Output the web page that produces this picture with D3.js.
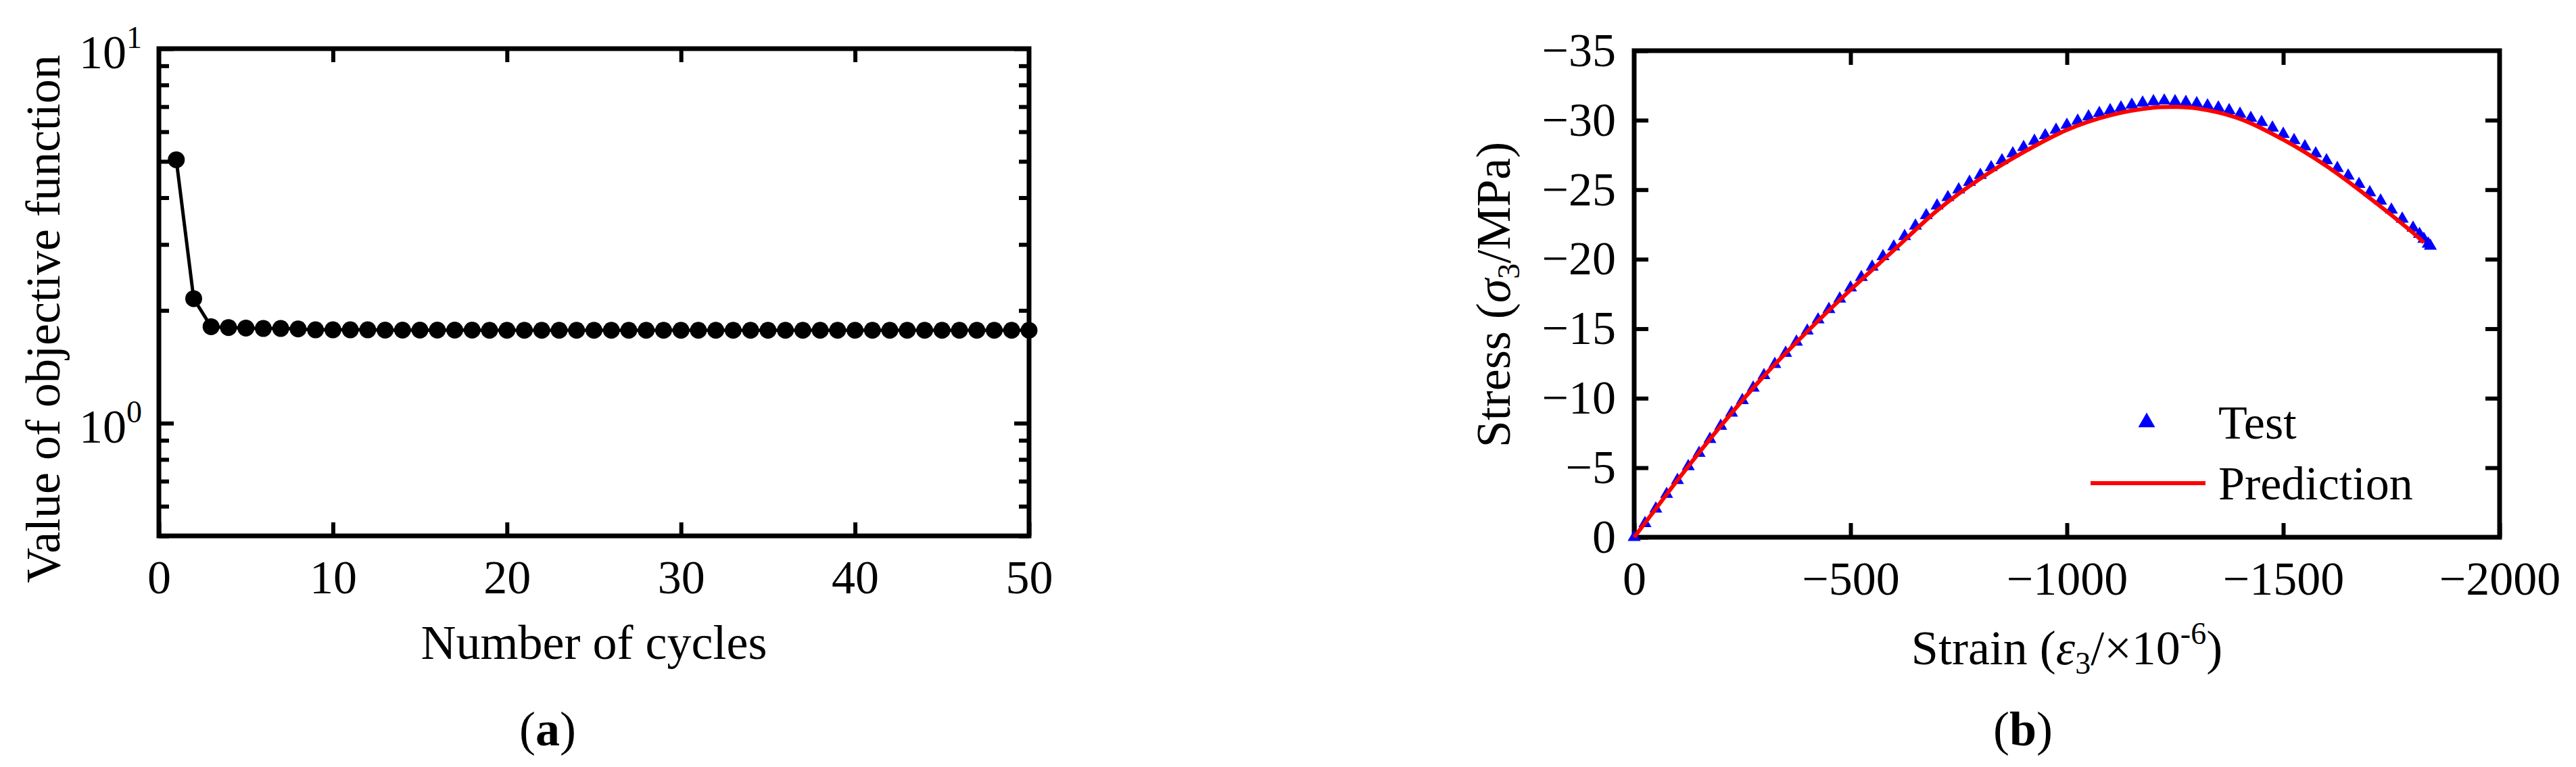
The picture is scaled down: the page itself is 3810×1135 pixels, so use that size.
<!DOCTYPE html>
<html>
<head>
<meta charset="utf-8">
<script src="https://cdn.jsdelivr.net/npm/d3@7"></script>
<style>
  body { margin: 0; background: #fff; }
  svg { display: block; }
</style>
</head>
<body>
<svg id="fig" width="3810" height="1135"></svg>
<script>
// panel (a): objective value per optimisation cycle
const cycles = [1, 2, 3, 4, 5, 6, 7, 8, 9, 10, 11, 12, 13, 14, 15, 16, 17, 18, 19, 20,
    21, 22, 23, 24, 25, 26, 27, 28, 29, 30, 31, 32, 33, 34, 35, 36, 37, 38, 39, 40,
    41, 42, 43, 44, 45, 46, 47, 48, 49, 50];
const objective = [5.05, 2.15, 1.81, 1.80, 1.795, 1.79, 1.79, 1.785, 1.775, 1.775,
    1.775, 1.775, 1.772, 1.772, 1.772, 1.772, 1.772, 1.772, 1.77, 1.77,
    1.77, 1.77, 1.77, 1.77, 1.77, 1.77, 1.77, 1.77, 1.77, 1.77,
    1.77, 1.77, 1.77, 1.77, 1.77, 1.77, 1.77, 1.77, 1.77, 1.77,
    1.77, 1.77, 1.77, 1.77, 1.77, 1.77, 1.77, 1.77, 1.77, 1.77];
const cycleTicks = [0, 10, 20, 30, 40, 50];
const objMajor = [1, 10];

// panel (b): stress-strain, test points and prediction
const testStrain = [0, -25, -50, -75, -100, -125, -150, -175, -200, -225, -250, -275, -300, -325,
    -350, -375, -400, -425, -450, -475, -500, -525, -550, -575, -600, -625, -650, -675, -700,
    -725, -750, -775, -800, -825, -850, -875, -900, -925, -950, -975, -1000, -1025, -1050,
    -1075, -1100, -1125, -1150, -1175, -1200, -1225, -1250, -1275, -1300, -1325, -1350,
    -1375, -1400, -1425, -1450, -1475, -1500, -1525, -1550, -1575, -1600, -1625, -1650,
    -1675, -1700, -1725, -1750, -1775, -1800, -1815, -1825, -1835, -1840];
const testStress = [0, -1.0, -2.05, -3.1, -4.1, -5.1, -6.05, -7.05, -8.0, -8.95, -9.85, -10.75, -11.65, -12.45,
    -13.25, -14.05, -14.85, -15.65, -16.4, -17.15, -17.95, -18.7, -19.45, -20.2, -20.9, -21.65, -22.4, -23.15, -23.85,
    -24.45, -25.0, -25.55, -26.05, -26.6, -27.1, -27.6, -28.05, -28.5, -28.9, -29.3, -29.65, -29.95, -30.25,
    -30.5, -30.7, -30.9, -31.1, -31.25, -31.35, -31.4, -31.35, -31.3, -31.2, -31.05, -30.9,
    -30.7, -30.45, -30.15, -29.85, -29.45, -29.0, -28.55, -28.1, -27.6, -27.1, -26.55, -26.0,
    -25.4, -24.8, -24.2, -23.55, -22.9, -22.25, -21.8, -21.45, -21.1, -20.95];
const predStrain = [0, -50, -100, -200, -300, -400, -500, -600, -700, -800, -900, -1000, -1100,
    -1200, -1250, -1300, -1400, -1500, -1600, -1700, -1800, -1825];
const predStress = [0, -2.05, -4.1, -8.0, -11.6, -14.8, -17.8, -20.65, -23.5, -25.8, -27.7, -29.3, -30.35,
    -30.9, -30.95, -30.85, -30.1, -28.6, -26.7, -24.4, -21.9, -21.2];
const strainTicks = [0, -500, -1000, -1500, -2000];
const stressTicks = [0, -5, -10, -15, -20, -25, -30, -35];

const FONT = 'Liberation Serif, Times New Roman, serif';
const TICK_FS = 70;
const TITLE_FS = 72;

const svg = d3.select('#fig');

function styleAxis(g) {
    g.attr('font-family', FONT).attr('font-size', TICK_FS);
    g.select('.domain').remove();
    g.selectAll('line').attr('stroke', '#000').attr('stroke-width', 6);
    g.selectAll('text').attr('fill', '#000');
}

// ---------- panel (a) ----------
const a = { left: 235, right: 1522, top: 72, bottom: 793 };
const xA = d3.scaleLinear().domain([0, 50]).range([a.left, a.right]);
const yA = d3.scaleLog().domain([0.5, 10]).range([a.bottom, a.top]);
const minorA = yA.ticks().filter(v => !objMajor.includes(v));

svg.append('g').attr('transform', `translate(0,${a.bottom})`)
    .call(d3.axisBottom(xA).tickValues(cycleTicks).tickSizeInner(-20).tickSizeOuter(0).tickPadding(35))
    .call(styleAxis);
svg.append('g').attr('transform', `translate(0,${a.top})`)
    .call(d3.axisTop(xA).tickValues(cycleTicks.slice(1, -1)).tickSizeInner(-20).tickSizeOuter(0).tickFormat(''))
    .call(styleAxis);
svg.append('g').attr('transform', `translate(${a.left},0)`)
    .call(d3.axisLeft(yA).tickValues(minorA).tickSizeInner(-15).tickSizeOuter(0).tickFormat(''))
    .call(styleAxis);
svg.append('g').attr('transform', `translate(${a.right},0)`)
    .call(d3.axisRight(yA).tickValues(minorA).tickSizeInner(-15).tickSizeOuter(0).tickFormat(''))
    .call(styleAxis);
svg.append('g').attr('transform', `translate(${a.right},0)`)
    .call(d3.axisRight(yA).tickValues(objMajor).tickSizeInner(-22).tickSizeOuter(0).tickFormat(''))
    .call(styleAxis);
const leftMajor = svg.append('g').attr('transform', `translate(${a.left},0)`)
    .call(d3.axisLeft(yA).tickValues(objMajor).tickSizeInner(-22).tickSizeOuter(0).tickPadding(25))
    .call(styleAxis);
leftMajor.selectAll('.tick text').each(function (d) {
    const t = d3.select(this).text(null).attr('dy', '0.4em');
    t.append('tspan').text('10');
    t.append('tspan').attr('font-size', 46).attr('dy', -30).text(Math.round(Math.log10(d)));
});

svg.append('rect')
    .attr('x', a.left).attr('y', a.top)
    .attr('width', a.right - a.left).attr('height', a.bottom - a.top)
    .attr('fill', 'none').attr('stroke', '#000').attr('stroke-width', 7);

const seriesA = cycles.map((c, i) => [c, objective[i]]);
svg.append('path').datum(seriesA)
    .attr('fill', 'none').attr('stroke', '#000').attr('stroke-width', 5)
    .attr('d', d3.line().x(d => xA(d[0])).y(d => yA(d[1])));
svg.append('g').selectAll('circle').data(seriesA).enter().append('circle')
    .attr('cx', d => xA(d[0])).attr('cy', d => yA(d[1])).attr('r', 12.5)
    .attr('fill', '#000');

svg.append('text')
    .attr('transform', 'translate(88,472) rotate(-90)')
    .attr('text-anchor', 'middle').attr('font-family', FONT).attr('font-size', TITLE_FS)
    .text('Value of objective function');
svg.append('text')
    .attr('x', (a.left + a.right) / 2).attr('y', 975)
    .attr('text-anchor', 'middle').attr('font-family', FONT).attr('font-size', TITLE_FS)
    .text('Number of cycles');

const labA = svg.append('text').attr('x', 810).attr('y', 1103)
    .attr('text-anchor', 'middle').attr('font-family', FONT).attr('font-size', 72);
labA.append('tspan').text('(');
labA.append('tspan').attr('font-weight', 'bold').text('a');
labA.append('tspan').text(')');

// ---------- panel (b) ----------
const b = { left: 2417, right: 3697, top: 75, bottom: 795 };
const xB = d3.scaleLinear().domain([0, -2000]).range([b.left, b.right]);
const yB = d3.scaleLinear().domain([0, -35]).range([b.bottom, b.top]);
const fmt = d3.format('d');

svg.append('g').attr('transform', `translate(0,${b.bottom})`)
    .call(d3.axisBottom(xB).tickValues(strainTicks).tickFormat(fmt).tickSizeInner(-21).tickSizeOuter(0).tickPadding(35))
    .call(styleAxis);
svg.append('g').attr('transform', `translate(0,${b.top})`)
    .call(d3.axisTop(xB).tickValues(strainTicks.slice(1, -1)).tickFormat('').tickSizeInner(-21).tickSizeOuter(0))
    .call(styleAxis);
svg.append('g').attr('transform', `translate(${b.left},0)`)
    .call(d3.axisLeft(yB).tickValues(stressTicks).tickFormat(fmt).tickSizeInner(-21).tickSizeOuter(0).tickPadding(27))
    .call(styleAxis);
svg.append('g').attr('transform', `translate(${b.right},0)`)
    .call(d3.axisRight(yB).tickValues(stressTicks.slice(1, -1)).tickFormat('').tickSizeInner(-21).tickSizeOuter(0))
    .call(styleAxis);

svg.append('rect')
    .attr('x', b.left).attr('y', b.top)
    .attr('width', b.right - b.left).attr('height', b.bottom - b.top)
    .attr('fill', 'none').attr('stroke', '#000').attr('stroke-width', 7);

const testPts = testStrain.map((s, i) => [s, testStress[i]]);
const predPts = predStrain.map((s, i) => [s, predStress[i]]);
const tri = d3.symbol(d3.symbolTriangle, 160);
svg.append('g').selectAll('path').data(testPts).enter().append('path')
    .attr('transform', d => `translate(${xB(d[0])},${yB(d[1])})`)
    .attr('d', tri).attr('fill', '#0000ff');
svg.append('path').datum(predPts)
    .attr('fill', 'none').attr('stroke', '#ff0000').attr('stroke-width', 6)
    .attr('d', d3.line().curve(d3.curveCatmullRom).x(d => xB(d[0])).y(d => yB(d[1])));

// legend
const leg = svg.append('g').attr('font-family', FONT).attr('font-size', 70);
leg.append('path').attr('transform', 'translate(3175,625)')
    .attr('d', d3.symbol(d3.symbolTriangle, 271)).attr('fill', '#0000ff');
leg.append('text').attr('x', 3281).attr('y', 649).text('Test');
leg.append('line').attr('x1', 3092).attr('x2', 3262).attr('y1', 715).attr('y2', 715)
    .attr('stroke', '#ff0000').attr('stroke-width', 6);
leg.append('text').attr('x', 3281).attr('y', 739).text('Prediction');

const yTitleB = svg.append('text')
    .attr('transform', 'translate(2233,436) rotate(-90)')
    .attr('text-anchor', 'middle').attr('font-family', FONT).attr('font-size', TITLE_FS);
yTitleB.append('tspan').text('Stress (');
yTitleB.append('tspan').attr('font-style', 'italic').text('σ');
yTitleB.append('tspan').attr('font-size', 46).attr('dy', 14).text('3');
yTitleB.append('tspan').attr('dy', -14).text('/MPa)');

const xTitleB = svg.append('text')
    .attr('x', (b.left + b.right) / 2).attr('y', 983)
    .attr('text-anchor', 'middle').attr('font-family', FONT).attr('font-size', TITLE_FS);
xTitleB.append('tspan').text('Strain (');
xTitleB.append('tspan').attr('font-style', 'italic').text('ε');
xTitleB.append('tspan').attr('font-size', 46).attr('dy', 14).text('3');
xTitleB.append('tspan').attr('dy', -14).text('/×10');
xTitleB.append('tspan').attr('font-size', 46).attr('dy', -30).text('-6');
xTitleB.append('tspan').attr('dy', 30).text(')');

const labB = svg.append('text').attr('x', 2992).attr('y', 1103)
    .attr('text-anchor', 'middle').attr('font-family', FONT).attr('font-size', 72);
labB.append('tspan').text('(');
labB.append('tspan').attr('font-weight', 'bold').text('b');
labB.append('tspan').text(')');
</script>
</body>
</html>
